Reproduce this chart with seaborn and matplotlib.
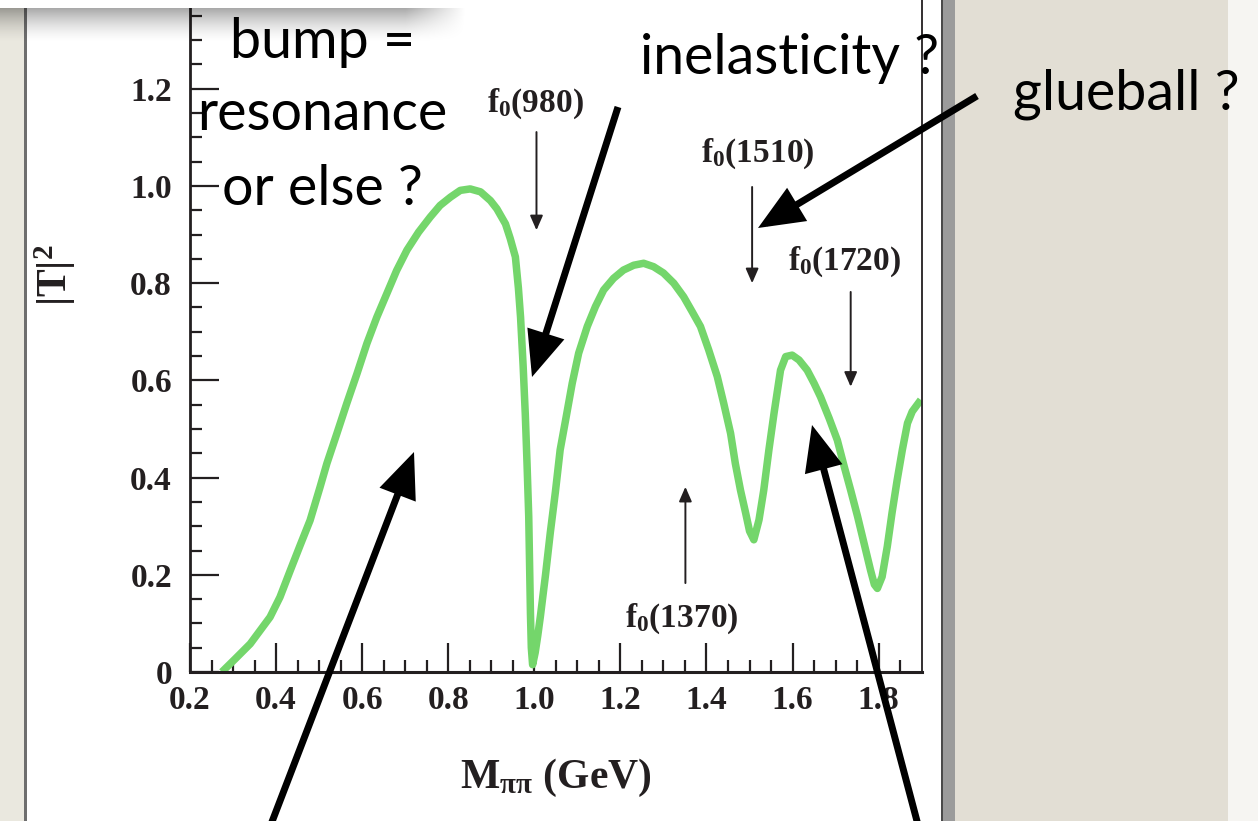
import numpy as np
import pandas as pd
import seaborn as sns
import matplotlib
matplotlib.use("Agg")
import matplotlib.pyplot as plt
from matplotlib.patches import Rectangle, FancyArrowPatch, ArrowStyle

# ---------------- data ----------------
mass = [0.274, 0.305, 0.340, 0.386, 0.409, 0.433, 0.456, 0.479, 0.502, 0.518,
        0.541, 0.564, 0.588, 0.611, 0.634, 0.657, 0.680, 0.704, 0.731, 0.758,
        0.781, 0.805, 0.828, 0.851, 0.875, 0.898, 0.913, 0.933, 0.944, 0.956,
        0.963, 0.968, 0.974, 0.979, 0.983, 0.987, 0.989, 0.991, 0.993, 0.996,
        1.002, 1.008, 1.014, 1.026, 1.037, 1.049, 1.060, 1.074, 1.088, 1.103,
        1.123, 1.142, 1.161, 1.184, 1.207, 1.231, 1.254, 1.277, 1.300, 1.324,
        1.347, 1.367, 1.386, 1.405, 1.425, 1.440, 1.456, 1.467, 1.479, 1.491,
        1.500, 1.510, 1.522, 1.533, 1.545, 1.557, 1.572, 1.584, 1.599, 1.615,
        1.634, 1.650, 1.665, 1.685, 1.704, 1.719, 1.735, 1.751, 1.766, 1.781,
        1.790, 1.797, 1.808, 1.820, 1.831, 1.843, 1.855, 1.867, 1.878, 1.898]
t2 = [0.000, 0.027, 0.058, 0.113, 0.154, 0.209, 0.261, 0.312, 0.380, 0.429,
      0.490, 0.552, 0.614, 0.676, 0.730, 0.778, 0.826, 0.868, 0.905, 0.936,
      0.960, 0.977, 0.991, 0.994, 0.988, 0.970, 0.953, 0.922, 0.892, 0.854,
      0.790, 0.730, 0.630, 0.530, 0.430, 0.320, 0.220, 0.120, 0.050, 0.015,
      0.040, 0.075, 0.114, 0.200, 0.286, 0.371, 0.457, 0.525, 0.594, 0.656,
      0.711, 0.752, 0.786, 0.810, 0.827, 0.837, 0.841, 0.834, 0.821, 0.800,
      0.772, 0.741, 0.711, 0.663, 0.608, 0.553, 0.491, 0.429, 0.374, 0.327,
      0.290, 0.272, 0.313, 0.374, 0.457, 0.533, 0.621, 0.649, 0.652, 0.642,
      0.621, 0.594, 0.566, 0.522, 0.477, 0.426, 0.374, 0.320, 0.265, 0.210,
      0.180, 0.172, 0.196, 0.258, 0.327, 0.395, 0.457, 0.512, 0.536, 0.560]

xtick_vals = [0.2, 0.4, 0.6, 0.8, 1.0, 1.2, 1.4, 1.6, 1.8]
xtick_labels = ["0.2", "0.4", "0.6", "0.8", "1.0", "1.2", "1.4", "1.6", "1.8"]
ytick_vals = [0.0, 0.2, 0.4, 0.6, 0.8, 1.0, 1.2]
ytick_labels = ["0", "0.2", "0.4", "0.6", "0.8", "1.0", "1.2"]

# resonance markers: label, x, arrow start y, arrow tip y, label baseline y
res_names = [r"$\mathbf{f_0(980)}$", r"$\mathbf{f_0(1510)}$",
             r"$\mathbf{f_0(1720)}$", r"$\mathbf{f_0(1370)}$"]
res_x = [1.005, 1.506, 1.735, 1.351]
res_from = [1.111, 0.998, 0.782, 0.183]
res_to = [0.909, 0.800, 0.587, 0.381]
res_label_y = [1.152, 1.049, 0.827, 0.093]
res_label_x = [1.003, 1.52, 1.72, 1.343]

# ---------------- style ----------------
sns.set_theme(style="ticks")
plt.rcParams["font.family"] = ["Liberation Serif", "DejaVu Serif"]
plt.rcParams["mathtext.fontset"] = "custom"
plt.rcParams["mathtext.rm"] = "Liberation Serif"
plt.rcParams["mathtext.bf"] = "Liberation Serif:bold"
plt.rcParams["mathtext.it"] = "Liberation Serif:italic"

INK = "#231f20"
GREEN = "#74d66b"

W, H = 1258, 821
fig = plt.figure(figsize=(W / 100, H / 100), dpi=100)
fig.patch.set_facecolor("white")


def fx(px):
    return px / W


def fy(py):
    return 1 - py / H


def rect(x0, y0, x1, y1, color, z=-5):
    fig.patches.append(Rectangle((fx(x0), fy(y1)), fx(x1) - fx(x0), fy(y0) - fy(y1),
                                 transform=fig.transFigure, facecolor=color,
                                 edgecolor="none", zorder=z))


# slide background pieces
rect(0, 0, 24, H, "#eae8df")
rect(24, 0, 26.5, H, "#6e6e6e")
rect(941, 0, 942.5, H, "#4a4a4a")
rect(942.5, 0, 955, H, "#9b9b9b")
rect(955, 0, 1228, H, "#e2ded4")
rect(1228, 0, W, H, "#f6f5f2")

# ---------------- axes ----------------
ax = fig.add_axes([fx(190), fy(672), fx(921.7) - fx(190), (1.4 * 486) / H])
ax.set_facecolor("white")
ax.patch.set_alpha(0)

sns.lineplot(x=mass, y=t2, ax=ax, color=GREEN, linewidth=5.4, sort=False,
             estimator=None, solid_capstyle="butt", solid_joinstyle="round")

ax.set_xlim(0.2, 1.9)
ax.set_ylim(0, 1.4)
ax.set_xticks(xtick_vals)
ax.set_xticklabels(xtick_labels)
ax.set_yticks(ytick_vals)
ax.set_yticklabels(ytick_labels)
ax.set_xticks(np.arange(0.25, 1.9, 0.05), minor=True)
ax.set_yticks(np.arange(0.05, 1.4, 0.05), minor=True)

ax.tick_params(axis="both", which="major", direction="in", length=21, width=1.6,
               color=INK, labelsize=24, labelcolor=INK)
ax.tick_params(axis="both", which="minor", direction="in", length=8.5, width=1.6,
               color=INK)
ax.tick_params(axis="y", which="major", pad=13)
ax.tick_params(axis="x", which="major", pad=9)
ax.tick_params(top=False, right=False, which="both")
for lab in ax.get_xticklabels() + ax.get_yticklabels():
    lab.set_fontweight("bold")

ax.spines["top"].set_visible(False)
ax.spines["left"].set_linewidth(2.0)
ax.spines["bottom"].set_linewidth(2.2)
ax.spines["right"].set_linewidth(1.3)
for s in ["left", "bottom", "right"]:
    ax.spines[s].set_color(INK)

ax.set_xlabel(r"$\mathbf{M_{\pi\pi}}$ (GeV)", fontsize=30, fontweight="bold",
              color=INK, va="baseline")
ax.xaxis.set_label_coords(0.5, (672 - 788) / 680.4)
ax.set_ylabel(r"$\mathbf{|T|^2}$", fontsize=30, color=INK, va="center")
ax.yaxis.set_label_coords((55 - 190) / 731.7, (672 - 275) / 680.4)

# resonance arrows and labels
for name, x, y0, y1, ly, lx in zip(res_names, res_x, res_from, res_to, res_label_y, res_label_x):
    ax.annotate("", xy=(x, y1), xytext=(x, y0),
                arrowprops=dict(arrowstyle=ArrowStyle("-|>", head_length=0.8, head_width=0.35),
                                mutation_scale=11, lw=1.4, color=INK,
                                shrinkA=0, shrinkB=0))
    ax.text(lx, ly, name, ha="center", va="baseline", fontsize=24, color=INK)

# ---------------- slide overlay ----------------
# top box + shadow
rect(0, 0, 466, 8, "white", z=4)
sh_h, sh_w = 36, 480
rows = np.linspace(0, 1, sh_h)[:, None]
cols = np.arange(sh_w)[None, :]
alpha = 0.34 * (1 - rows) ** 1.6 * np.clip(1 - (cols - 405) / 60.0, 0, 1)
shadow = np.zeros((sh_h, sh_w, 4))
shadow[..., 3] = alpha
fig.figimage(shadow, xo=0, yo=H - 8 - sh_h, origin="upper", zorder=5)

# slide annotations
slide_font = "Lato"
for txt, x, y in [("bump =", 230, 58), ("resonance", 197, 130), ("or else ?", 222, 205),
                  ("inelasticity ?", 640, 74), ("glueball ?", 1013, 110)]:
    fig.text(fx(x), fy(y), txt, fontsize=40, family=slide_font, color="black",
             ha="left", va="baseline", zorder=10)

# big black arrows (figure pixel coordinates)
big = ArrowStyle("-|>", head_length=0.8, head_width=0.34)
for (x0, y0), (x1, y1) in [((618, 107), (532, 377)), ((977, 96), (758, 228)),
                           ((265, 840), (414, 452)), ((922, 840), (812, 425))]:
    fig.add_artist(FancyArrowPatch((fx(x0), fy(y0)), (fx(x1), fy(y1)),
                                   transform=fig.transFigure, arrowstyle=big,
                                   mutation_scale=30, lw=5, color="black",
                                   shrinkA=0, shrinkB=0, zorder=20,
                                   joinstyle="miter", capstyle="butt"))

fig.savefig("out.png", dpi=100, facecolor=fig.get_facecolor())
